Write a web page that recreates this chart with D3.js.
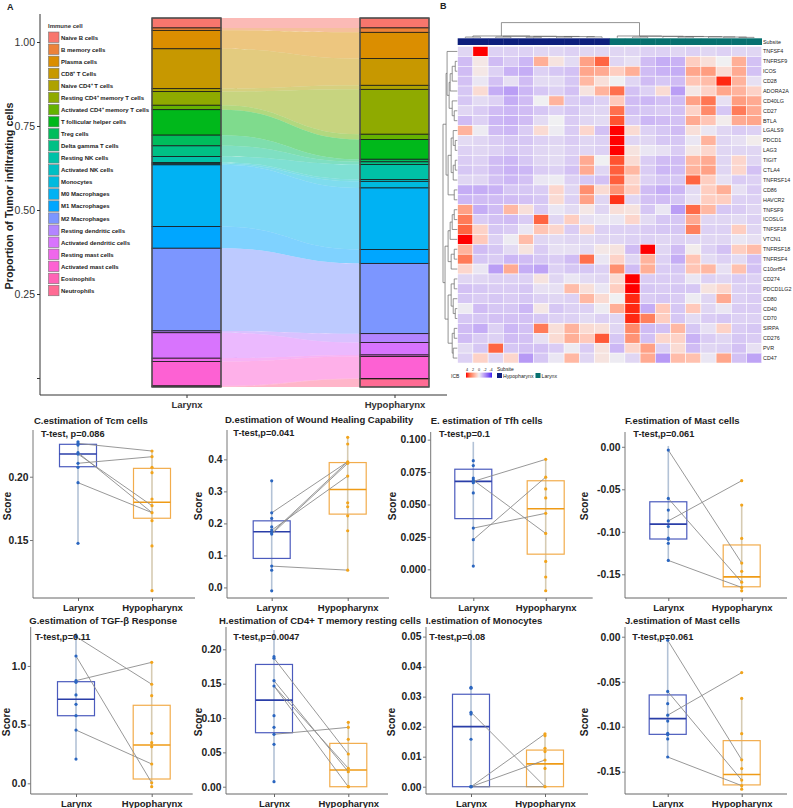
<!DOCTYPE html>
<html><head><meta charset="utf-8">
<script src="https://cdn.jsdelivr.net/npm/d3@7/dist/d3.min.js"></script>
<style>
html,body{margin:0;padding:0;background:#fff;}
svg{display:block;}
</style></head>
<body><svg id="chart" width="793" height="808"></svg>
<script>
// ================= DATA =================
const immuneCells = ["Naive B cells","B memory cells","Plasma cells","CD8⁺ T Cells","Naive CD4⁺ T cells","Resting CD4⁺ memory T cells","Activated CD4⁺ memory T cells","T follicular helper cells","Treg cells","Delta gamma T cells","Resting NK cells","Activated NK cells","Monocytes","M0 Macrophages","M1 Macrophages","M2 Macrophages","Resting dendritic cells","Activated dendritic cells","Resting mast cells","Activated mast cells","Eosinophils","Neutrophils"];
const subsites = ["Larynx","Hypopharynx"];
const larynxProp = [0.027,0.0065,0.050,0.108,0.008,0.037,0.012,0.069,0.029,0.029,0.016,0.0035,0.003,0.167,0.059,0.224,0.005,0.069,0.009,0.066,0.0015,0.0015];
const hypoProp   = [0.027,0.012,0.071,0.073,0.011,0.122,0.014,0.054,0.007,0.007,0.041,0.005,0.018,0.167,0.038,0.191,0.024,0.034,0.004,0.060,0.001,0.022];
const propTicks = [0,0.25,0.5,0.75,1];

const genes = ["TNFSF4","TNFRSF9","ICOS","CD28","ADORA2A","CD40LG","CD27","BTLA","LGALS9","PDCD1","LAG3","TIGIT","CTLA4","TNFRSF14","CD86","HAVCR2","TNFSF9","ICOSLG","TNFSF18","VTCN1","TNFRSF18","TNFRSF4","C10orf54","CD274","PDCD1LG2","CD80","CD40","CD70","SIRPA","CD276","PVR","CD47"];
const sampleSubsite = ["Hypopharynx","Hypopharynx","Hypopharynx","Hypopharynx","Hypopharynx","Hypopharynx","Hypopharynx","Hypopharynx","Hypopharynx","Hypopharynx","Larynx","Larynx","Larynx","Larynx","Larynx","Larynx","Larynx","Larynx","Larynx","Larynx"];
const icbTicks = [4,2,0,-2,-4];
const heatValues = [
[-0.5,4,-0.6,-0.6,-0.6,-0.5,-0.5,-0.6,-0.5,-0.5,-0.5,-0.5,-0.6,-0.6,-0.5,-0.6,-0.5,-0.6,-0.5,-0.5],
[-1,0.2,-1,-0.7,-1.1,1.5,0.3,-0.4,1.8,3,-0.5,-0.3,-1,-1.3,-1.2,0.8,0.4,0,1.5,-0.9],
[-1,0.2,-0.6,-1.2,-1.3,-0.6,-0.8,-0.9,1.7,1.6,0.8,1.5,-1,-1.2,-1.3,1.7,1.9,0.5,1.6,-0.9],
[-0.9,-0.2,-0.9,-0.3,-1,-0.4,-0.4,-0.8,1.3,0.4,0,-0.5,-1,-0.8,-1,1,1.2,3.8,1.4,-0.3],
[-0.8,0.5,-1.3,-1.6,-1.1,-0.8,-0.6,-0.9,0.3,1.4,2.8,-0.9,-0.6,0.5,-1.6,0.2,0.7,1.7,1.4,0.7],
[-0.8,-0.4,-0.6,-1.3,-1,0,1.4,-0.7,-0.8,-0.6,0.9,-1,-1.1,-0.9,-1,1.8,2.7,-0.3,1.9,1.6],
[-0.5,-0.7,-1,-1.1,-1,-0.8,-0.6,-0.8,-0.5,-0.5,2.8,-0.9,-0.8,-0.7,-0.9,0.7,2.3,-0.8,2.6,1.6],
[-1,-0.6,-1.1,-1.2,-1,-0.4,0,-0.7,-0.5,-0.4,3.3,-0.7,-1.1,-1,-0.9,1.6,1,0.1,1.6,1.7],
[1.4,-0.1,-1,-1.1,-0.7,0.5,-0.1,-0.7,0.6,-0.9,4,0.5,-0.6,-0.8,-1,0.4,-0.2,-0.5,-0.7,-0.6],
[-0.4,-0.5,-0.7,-0.8,-0.8,-0.6,-0.5,-0.7,-0.5,-0.6,4,-0.5,-0.5,-0.8,-0.8,-0.2,1.4,-0.5,-0.3,0.1],
[-0.6,-0.5,-0.6,-0.8,-0.7,-0.5,-0.4,-0.6,-0.5,-0.6,4,0.3,-0.2,-0.3,-0.7,0.2,0.6,-0.5,-0.5,-0.5],
[-0.7,-0.6,-1,-1.1,-0.8,-0.5,-0.4,-0.7,1.6,0,3.3,0.5,-0.7,-1,-1,1.3,1.6,-0.5,0.6,-0.5],
[-0.8,-0.7,-1,-1.2,-1.1,-0.7,-0.6,-0.9,1.6,-0.5,3.1,1.3,-0.7,-1.1,-1,1.4,1.8,-0.5,0.6,-0.9],
[-0.5,-0.5,-0.9,-1.1,-0.9,-0.2,-0.1,-0.6,-0.8,-0.9,3.1,0.6,-0.6,-0.8,-0.8,3,0.8,-0.3,-0.7,-0.6],
[-1.3,-1.3,-1.2,-0.8,-0.8,-0.7,0.6,-0.5,2.2,0.5,2.1,0.8,-1,-1.3,-1.1,-0.4,0.8,1.5,-0.3,-0.7],
[-1.1,-1,-1,-1,-0.9,-0.8,0.5,-0.6,1.8,-0.5,3.7,-0.5,-0.9,-1,-0.8,-0.3,0.8,0.8,-0.6,-0.6],
[1.8,-1.3,-1,1.3,0.4,-0.7,-0.2,-0.4,0.2,-0.5,0.4,0.3,-0.8,-0.2,-1.6,2.9,1.3,-0.8,-0.7,-0.5],
[2.6,-0.7,-0.9,-1,-0.7,3,-0.5,0.8,-0.3,-0.2,-0.2,0.6,-0.4,-0.8,-0.8,1.6,-0.5,-0.5,-0.4,-0.6],
[3,0.7,-0.8,-0.7,-0.2,1,0.6,-0.7,0.6,-0.6,-0.6,-0.6,-0.7,-0.8,-0.8,2.5,-0.6,-0.6,0.8,-0.5],
[4,0.9,-0.6,-0.1,1.2,-0.5,-0.4,-0.5,-0.4,-0.5,-0.5,-0.6,-0.6,-0.5,-0.6,-0.5,-0.5,-0.5,-0.2,-0.3],
[1.4,-1,-0.8,-0.4,0.3,-0.7,-0.3,-0.3,-0.4,0.2,0.3,-1,4,-0.5,-1,0.1,-0.6,-0.9,0.8,1.2],
[2.6,-0.8,-0.7,-1.1,-1,-0.8,-0.7,-1,2.8,-0.2,0.7,-0.5,1.4,-0.6,-1.3,1,-0.4,-0.6,-0.4,-0.9],
[0.6,-0.2,-1.6,1.6,-1.3,-1.5,-0.6,-0.8,-0.8,-0.6,2.2,-1,1.5,-0.7,-0.8,1,1.3,-0.3,1.1,-0.9],
[-0.5,-0.5,-0.6,-0.6,-0.6,0.3,-0.5,-0.2,-0.4,-0.5,0.5,4,-0.7,-0.7,-0.7,-0.2,-0.6,-0.5,-0.7,-0.6],
[-0.9,-0.8,-0.7,-0.7,-0.8,-0.3,-0.3,1.2,0.4,-0.2,0.8,4,-0.8,-0.7,-0.8,-0.8,0.3,0.6,-0.6,-0.7],
[-0.8,-0.7,-0.8,-0.7,-0.8,-0.6,-0.5,-0.6,1.3,0.5,0,3.8,-0.7,-0.8,-0.7,-0.1,-0.5,1.6,-0.6,-0.7],
[-0.1,-1,-0.8,-0.8,-1.1,0.2,-0.8,-0.6,-0.6,-0.1,1.5,3.8,-1.3,0.9,-0.8,0.9,-0.5,-0.2,-0.7,-0.7],
[-0.8,-0.8,-0.9,-0.9,-0.9,-0.8,-0.6,-0.6,-0.4,-0.6,-0.5,3.8,2.5,0.8,-0.8,-0.4,-0.7,-0.8,-0.6,-0.6],
[-1,-1.3,-0.6,-1.1,-0.9,2.6,0.4,1.4,0.5,0.4,-0.5,2.3,-1,-0.9,1.3,-0.8,-0.3,0.7,-0.7,-0.8],
[-1,-0.7,-0.6,-1,-0.9,-0.3,0.5,1.5,0.9,3.2,-0.8,2.1,-0.9,0.6,0.7,-1.2,-0.7,-0.5,-0.8,-0.7],
[-0.4,-0.8,3,-0.8,-0.9,-0.9,-0.7,-0.1,-0.7,0.3,-1.1,0.6,1.8,-0.6,0.5,-1,-0.5,-0.6,-0.9,-0.3],
[-0.6,0.7,-0.5,0.6,-1.7,-0.8,-0.2,1.3,-0.5,0.3,-0.1,-0.5,1.6,-1.7,1.2,1.1,-0.2,1.7,-0.9,-1.5]
];

// dendrogram merge heights (nested)
const N = (h, ...c) => ({h, c});
const rowTree = N(14,
  N(11,
    N(10, "TNFSF4", N(8, N(7, N(5, N(2,"TNFRSF9","ICOS"),"CD28"),"ADORA2A"), N(5,"CD40LG",N(3,"CD27","BTLA")))),
    N(9, N(6, N(4,"LGALS9",N(2,"PDCD1","LAG3")), N(4,N(2,"TIGIT","CTLA4"),"TNFRSF14")), N(3,"CD86","HAVCR2"))),
  N(12,
    N(9, N(7, N(5, N(3,"TNFSF9","ICOSLG"),"TNFSF18"),"VTCN1"), N(6, N(3,"TNFRSF18","TNFRSF4"),"C10orf54")),
    N(9, N(6, N(3,"CD274","PDCD1LG2"), N(4,"CD80",N(2,"CD40","CD70"))), N(5, N(3,"SIRPA","CD276"), N(4,"PVR","CD47")))));
const colTree = N(10,
  N(1.2, N(0.5,0,1), N(1.0, N(0.5,2,3), N(0.9, N(0.4,4,5), N(0.8, N(0.5,6,7), N(0.6,8,9))))),
  N(1.2, 10, N(1.0, N(0.5,11,12), N(0.9, 13, N(0.8, N(0.5,14,15), N(0.6,16, N(0.5,17, N(0.3,18,19))))))));

// Box panels data
const tcmLarynx = [0.2276,0.2263,0.225,0.219,0.2179,0.2106,0.2074,0.1953,0.1474];
const tcmHypo   = [0.2203,0.2158,0.2074,0.2032,0.1824,0.1771,0.1716,0.1653,0.1453,0.110];
const tcmBoxL = [0.1474,0.2079,0.2179,0.2256,0.2276];
const tcmBoxH = [0.110,0.1672,0.1798,0.2066,0.2203];
const tcmPairs = [[0.2263,0.2203],[0.2106,0.2158],[0.2179,0.1771],[0.219,0.1716],[0.1953,0.1716]];
const tcmTicks = [0.15,0.20];

const woundLarynx = [0.333,0.233,0.2156,0.189,0.179,0.1706,0.1666,0.0666,0.054,-0.0106];
const woundHypo   = [0.4687,0.448,0.3926,0.3875,0.3478,0.2644,0.252,0.2238,0.177,0.054];
const woundBoxL = [-0.0106,0.0906,0.174,0.208,0.333];
const woundBoxH = [0.054,0.229,0.306,0.39,0.4687];
const woundPairs = [[0.233,0.3926],[0.1706,0.3926],[0.1666,0.3875],[0.179,0.3478],[0.0666,0.054]];
const woundTicks = [0,0.1,0.2,0.3,0.4];

const tfhLarynx = [0.0838,0.080,0.0704,0.0688,0.0678,0.0668,0.0589,0.0318,0.0229,0.0025];
const tfhHypo   = [0.0848,0.0711,0.062,0.0551,0.0432,0.0277,0.0061,-0.0059,-0.0165];
const tfhBoxL = [0.0025,0.0391,0.0678,0.0772,0.0983];
const tfhBoxH = [-0.0165,0.0117,0.0467,0.0683,0.0848];
const tfhPairs = [[0.0678,0.0848],[0.0688,0.0277],[0.0318,0.0432],[0.0229,0.0711]];
const tfhTicks = [0,0.025,0.05,0.075,0.1];

const mastLarynx = [-0.0039,-0.0608,-0.0744,-0.0872,-0.0938,-0.1074,-0.1089,-0.1136,-0.1337];
const mastHypo   = [-0.0399,-0.0686,-0.1078,-0.1368,-0.1465,-0.1593,-0.1655,-0.1694];
const mastBoxL = [-0.1337,-0.1085,-0.091,-0.0647,0.001];
const mastBoxH = [-0.1694,-0.1647,-0.1531,-0.1155,-0.0686];
const mastPairs = [[-0.0039,-0.1368],[-0.0872,-0.0399],[-0.0608,-0.1593],[-0.1337,-0.1655]];
const mastTicks = [0,-0.05,-0.1,-0.15];

const tgfLarynx = [1.25,1.085,0.875,0.861,0.753,0.673,0.576,0.454,0.207];
const tgfHypo   = [1.031,0.844,0.747,0.426,0.346,0.312,0.1645,0.005,-0.029];
const tgfBoxL = [0.207,0.576,0.716,0.866,1.28];
const tgfBoxH = [-0.029,0.0367,0.3265,0.665,1.031];
const tgfPairs = [[1.25,0.844],[0.875,1.031],[1.085,0.005],[0.454,0.1645]];
const tgfTicks = [0,0.5,1.0];

const cd4Larynx = [0.1893,0.187,0.1543,0.1466,0.1034,0.0864,0.0763,0.0617,0.0073];
const cd4Hypo   = [0.0937,0.0864,0.069,0.0476,0.0268,0.0218,0.0,0.0];
const cd4BoxL = [0.0073,0.0786,0.126,0.178,0.228];
const cd4BoxH = [0.0,0.0,0.0243,0.0631,0.0937];
const cd4Pairs = [[0.187,0.0476],[0.1543,0.0218],[0.1466,0.0268],[0.1466,0.0],[0.0763,0.0864]];
const cd4Ticks = [0,0.05,0.1,0.15,0.2];

const monoLarynx = [0.0331,0.0328,0.0248,0.0242,0.0158,0,0,0];
const monoHypo   = [0.0176,0.017,0.0128,0.0117,0.0089,0.0061,0];
const monoBoxL = [0,0,0.02,0.0308,0.0522];
const monoBoxH = [0,0,0.0076,0.0122,0.0176];
const monoPairs = [[0.0248,0],[0,0.0176],[0,0.0089],[0,0]];
const monoTicks = [0,0.01,0.02,0.03,0.04,0.05];

const panelTitles = ["C.estimation of Tcm cells","D.estimation of Wound Healing Capability","E. estimation of Tfh cells","F.estimation of Mast cells","G.estimation of TGF-β Response","H.estimation of CD4+ T memory resting cells","I.estimation of Monocytes","J.estimation of Mast cells"];
const pTexts = ["T-test, p=0.086","T-test,p=0.041","T-test,p=0.1","T-test,p=0.061","T-test,p=0.11","T-test,p=0.0047","T-test,p=0.08","T-test,p=0.061"];

// ================= HELPERS =================
const FONT = '"Liberation Sans", Arial, Helvetica, sans-serif';
function hclLuv(h, c, l) {
  const hr = h*Math.PI/180, U = c*Math.cos(hr), V = c*Math.sin(hr);
  const Y = l > 8 ? Math.pow((l+16)/116,3) : l/903.3;
  const Xn=0.95047, Yn=1, Zn=1.08883, den = Xn+15*Yn+3*Zn;
  const un = 4*Xn/den, vn = 9*Yn/den;
  const u = U/(13*l)+un, v = V/(13*l)+vn;
  const X = 9*Y*u/(4*v), Z = Y*(12-3*u-20*v)/(4*v);
  const r = 3.2404542*X-1.5371385*Y-0.4985314*Z;
  const g = -0.9692660*X+1.8760108*Y+0.0415560*Z;
  const b = 0.0556434*X-0.2040259*Y+1.0572252*Z;
  const gm = x => { x=Math.max(0,Math.min(1,x)); return x<=0.0031308?12.92*x:1.055*Math.pow(x,1/2.4)-0.055; };
  return d3.rgb(gm(r)*255, gm(g)*255, gm(b)*255).formatHex();
}
const fmtMinus = f => d => d3.format(f)(d).replace("−","-");

const svg = d3.select("#chart").attr("font-family", FONT);

// ================= PANEL A =================
const cellColor = d3.scaleOrdinal().domain(immuneCells).range(immuneCells.map((d,i)=>hclLuv(15+i*360/22,100,65)));
const xA = d3.scalePoint().domain(subsites).range([186.5, 394.5]);
const yAxisA = d3.scaleLinear().domain([0,1]).range([378,42]);
const yStack = d3.scaleLinear().domain([0,1]).range([387,18]);
const barW = 69;
function stackOf(vals){ const s=d3.sum(vals); let acc=0; return vals.map(v=>{const t=1-acc/s; acc+=v; return {top:t, bot:1-acc/s};}); }
const stacks = {Larynx: stackOf(larynxProp), Hypopharynx: stackOf(hypoProp)};
const gA = svg.append("g");
const fx1 = xA("Larynx")+barW/2, fx2 = xA("Hypopharynx")-barW/2, fxm = (fx1+fx2)/2;
immuneCells.forEach((c,i)=>{
  const a = stacks.Larynx[i], b = stacks.Hypopharynx[i];
  const p = d3.path();
  p.moveTo(fx1, yStack(a.top));
  p.bezierCurveTo(fxm, yStack(a.top), fxm, yStack(b.top), fx2, yStack(b.top));
  p.lineTo(fx2, yStack(b.bot));
  p.bezierCurveTo(fxm, yStack(b.bot), fxm, yStack(a.bot), fx1, yStack(a.bot));
  p.closePath();
  gA.append("path").attr("d", p.toString()).attr("fill", cellColor(c)).attr("fill-opacity", 0.5);
});
subsites.forEach(g=>{
  const st = stacks[g];
  immuneCells.forEach((c,i)=>{
    gA.append("rect").attr("x", xA(g)-barW/2).attr("width", barW)
      .attr("y", yStack(st[i].top)).attr("height", Math.max(0.01, yStack(st[i].bot)-yStack(st[i].top)))
      .attr("fill", cellColor(c)).attr("stroke", "#1a1a1a").attr("stroke-width", 0.8);
  });
  gA.append("rect").attr("x", xA(g)-barW/2).attr("width", barW).attr("y", yStack(1)).attr("height", yStack(0)-yStack(1))
    .attr("fill","none").attr("stroke","#555").attr("stroke-width",1.3);
});
gA.append("line").attr("x1",40).attr("x2",40).attr("y1",14).attr("y2",395).attr("stroke","#333").attr("stroke-width",1);
gA.append("line").attr("x1",40).attr("x2",447).attr("y1",395).attr("y2",395).attr("stroke","#333").attr("stroke-width",1);
const axA = gA.append("g").attr("transform","translate(40,0)")
  .call(d3.axisLeft(yAxisA).tickValues(propTicks).tickSize(3).tickPadding(2).tickFormat(d=>d===0?"":d3.format(".2f")(d)));
axA.select(".domain").remove();
axA.attr("font-family", FONT).attr("font-size", 10.5);
axA.selectAll("text").attr("fill","#333");
axA.selectAll("line").attr("stroke","#333");
const axAx = gA.append("g").attr("transform","translate(0,395)").call(d3.axisBottom(xA).tickSize(3).tickPadding(3));
axAx.select(".domain").remove();
axAx.attr("font-family", FONT).attr("font-size", 9.5).attr("font-weight","bold");
axAx.selectAll("text").attr("fill","#333");
axAx.selectAll("line").attr("stroke","#333");
gA.append("text").attr("transform","translate(13,196) rotate(-90)").attr("text-anchor","middle")
  .attr("font-size",10.8).attr("font-weight","bold").attr("fill","#222").text("Proportion of Tumor infiltrating cells");
// legend
gA.append("text").attr("x",48).attr("y",28).attr("font-size",6).attr("font-weight","bold").attr("fill","#333").text("Immune cell");
immuneCells.forEach((c,i)=>{
  const y = 32 + i*12.06;
  gA.append("rect").attr("x",48.5).attr("y",y).attr("width",10.5).attr("height",10.5).attr("fill",cellColor(c)).attr("stroke","#777").attr("stroke-width",0.6);
  gA.append("text").attr("x",61).attr("y",y+7.6).attr("font-size",6).attr("font-weight","bold").attr("fill","#222").text(c);
});
svg.append("text").attr("x",7).attr("y",10).attr("font-size",9).attr("font-weight","bold").attr("fill","#222").text("A");

// ================= PANEL B =================
const gB = svg.append("g");
svg.append("text").attr("x",440).attr("y",9).attr("font-size",9).attr("font-weight","bold").attr("fill","#222").text("B");
const xH = d3.scaleBand().domain(d3.range(20)).range([457.7, 761.7]);
const yH = d3.scaleBand().domain(genes).range([46.5, 363]);
const heatColor = d3.scaleLinear().domain([-4,0,4]).range(["#3f22f2","#f0f0f2","#ff0000"]).interpolate(d3.interpolateLab).clamp(true);
const subColor = d3.scaleOrdinal().domain(["Hypopharynx","Larynx"]).range(["#0d1f7c","#07706f"]);
sampleSubsite.forEach((s,j)=>{
  gB.append("rect").attr("x", xH(j)).attr("y", 38.3).attr("width", xH.bandwidth()+0.3).attr("height", 6.7).attr("fill", subColor(s));
});
gB.append("text").attr("x",763).attr("y",43.5).attr("font-size",5.4).attr("fill","#222").text("Subsite");
genes.forEach((gname,i)=>{
  heatValues[i].forEach((v,j)=>{
    gB.append("rect").attr("x", xH(j)).attr("y", yH(gname)).attr("width", xH.bandwidth()).attr("height", yH.bandwidth())
      .attr("fill", heatColor(v)).attr("stroke","#ffffff").attr("stroke-width",0.5);
  });
  gB.append("text").attr("x",763).attr("y", yH(gname)+yH.bandwidth()/2+1.9).attr("font-size",5.4).attr("fill","#222").text(gname);
});
// dendrograms
function drawTree(node, leafPos, hPos, orient, g) {
  if (typeof node !== "object") return {pos: leafPos(node), h: 0};
  const kids = node.c.map(k => drawTree(k, leafPos, hPos, orient, g));
  const pos = d3.mean(kids, k => k.pos);
  const hp = hPos(node.h);
  const line = (a,b,c,d) => g.append("line").attr("x1",a).attr("y1",b).attr("x2",c).attr("y2",d).attr("stroke","#666").attr("stroke-width",0.7);
  const p0 = d3.min(kids, k=>k.pos), p1 = d3.max(kids, k=>k.pos);
  if (orient === "row") {
    line(hp, p0, hp, p1);
    kids.forEach(k => line(hp, k.pos, hPos(k.h), k.pos));
  } else {
    line(p0, hp, p1, hp);
    kids.forEach(k => line(k.pos, hp, k.pos, hPos(k.h)));
  }
  return {pos, h: node.h};
}
const rowH = d3.scaleLinear().domain([0,14]).range([457.3, 443]);
drawTree(rowTree, gname => yH(gname)+yH.bandwidth()/2, rowH, "row", gB);
const colH = d3.scaleLinear().domain([0,10]).range([37.8, 22.6]);
drawTree(colTree, j => xH(j)+xH.bandwidth()/2, colH, "col", gB);
// legend
const defs = svg.append("defs");
const grad = defs.append("linearGradient").attr("id","icbGrad").attr("x1","0%").attr("x2","100%");
d3.range(0,1.0001,0.125).forEach(t => grad.append("stop").attr("offset", (t*100)+"%").attr("stop-color", heatColor(4 - 8*t)));
const icbX = d3.scaleLinear().domain([4,-4]).range([467, 491]);
gB.append("text").attr("x",451).attr("y",377.5).attr("font-size",5).attr("fill","#222").text("ICB");
gB.append("rect").attr("x",icbX(4)-1).attr("y",372.6).attr("width",icbX(-4)-icbX(4)+2).attr("height",5).attr("fill","url(#icbGrad)");
icbTicks.forEach(t => gB.append("text").attr("x",icbX(t)).attr("y",371).attr("text-anchor","middle").attr("font-size",3.8).attr("fill","#222").text(t));
gB.append("text").attr("x",497).attr("y",371).attr("font-size",5).attr("fill","#222").text("Subsite");
gB.append("rect").attr("x",497).attr("y",373).attr("width",5).attr("height",5).attr("fill",subColor("Hypopharynx"));
gB.append("text").attr("x",503).attr("y",377.7).attr("font-size",5.2).attr("fill","#222").text("Hypopharynx");
gB.append("rect").attr("x",535.5).attr("y",373).attr("width",5).attr("height",5).attr("fill",subColor("Larynx"));
gB.append("text").attr("x",541.5).attr("y",377.7).attr("font-size",5.2).attr("fill","#222").text("Larynx");

// ================= BOX PANELS =================
const boxPanels = [
 {L:tcmLarynx,H:tcmHypo,bL:tcmBoxL,bH:tcmBoxH,pairs:tcmPairs,ticks:tcmTicks,fmt:".2f",dom:[0.1042,0.2369],left:33,top:430,bottom:598,cx:[78,152],tx:34,ty:423.5,px:41,py:436.5,sx:10.5,sy:506},
 {L:woundLarynx,H:woundHypo,bL:woundBoxL,bH:woundBoxH,pairs:woundPairs,ticks:woundTicks,fmt:".1f",dom:[-0.033,0.4917],left:227,top:430,bottom:598,cx:[271.7,347.7],tx:225,ty:422.5,px:233.3,py:436,sx:201.5,sy:506},
 {L:tfhLarynx,H:tfhHypo,bL:tfhBoxL,bH:tfhBoxH,pairs:tfhPairs,ticks:tfhTicks,fmt:".3f",dom:[-0.0221,0.1059],left:430.7,top:432,bottom:598,cx:[473.3,545.7],tx:430.7,ty:423.5,px:439,py:436.5,sx:395.5,sy:506},
 {L:mastLarynx,H:mastHypo,bL:mastBoxL,bH:mastBoxH,pairs:mastPairs,ticks:mastTicks,fmt:".2f",dom:[-0.1779,0.0174],left:625,top:432,bottom:598,cx:[668.3,741.7],tx:625,ty:423.5,px:633.3,py:436.5,sx:588,sy:506},
 {L:tgfLarynx,H:tgfHypo,bL:tgfBoxL,bH:tgfBoxH,pairs:tgfPairs,ticks:tgfTicks,fmt:".1f",dom:[-0.091,1.332],left:30.7,top:627,bottom:794,cx:[76,151.7],tx:29.3,ty:624,px:35,py:639.5,sx:10,sy:722},
 {L:cd4Larynx,H:cd4Hypo,bL:cd4BoxL,bH:cd4BoxH,pairs:cd4Pairs,ticks:cd4Ticks,fmt:".2f",dom:[-0.0106,0.2325],left:226,top:627,bottom:794,cx:[274,348.3],tx:219,ty:624,px:233.3,py:640,sx:201.5,sy:722},
 {L:monoLarynx,H:monoHypo,bL:monoBoxL,bH:monoBoxH,pairs:monoPairs,ticks:monoTicks,fmt:".2f",dom:[-0.00243,0.0532],left:426,top:627,bottom:794,cx:[471,545],tx:425.7,ty:624,px:429.3,py:640,sx:395,sy:722},
 {L:mastLarynx,H:mastHypo,bL:mastBoxL,bH:mastBoxH,pairs:mastPairs,ticks:mastTicks,fmt:".2f",dom:[-0.1748,0.0108],left:625,top:627,bottom:794,cx:[667.7,741.7],tx:625,ty:624,px:632.3,py:640,sx:588,sy:722}
];
const grpStyle = {
  Larynx: {box:"#4b5bbd", med:"#2a3ea8", whisk:"#b3c2d6", pt:"#2b66c0"},
  Hypopharynx: {box:"#f2ac4c", med:"#ef9b16", whisk:"#d6cbb2", pt:"#f2a41c"}
};
boxPanels.forEach((P, k) => {
  const g = svg.append("g");
  const x = d3.scalePoint().domain(subsites).range(P.cx);
  const y = d3.scaleLinear().domain(P.dom).range([P.bottom, P.top]);
  const boxW = 37;
  // axes lines
  g.append("line").attr("x1",P.left).attr("x2",P.left).attr("y1",P.top).attr("y2",P.bottom).attr("stroke","#777").attr("stroke-width",1);
  g.append("line").attr("x1",P.left).attr("x2",P.left+162).attr("y1",P.bottom).attr("y2",P.bottom).attr("stroke","#666").attr("stroke-width",1);
  const ay = g.append("g").attr("transform",`translate(${P.left},0)`)
    .call(d3.axisLeft(y).tickValues(P.ticks).tickSize(3).tickPadding(1.5).tickFormat(fmtMinus(P.fmt)));
  ay.select(".domain").remove();
  ay.attr("font-family",FONT).attr("font-size",10.3).attr("font-weight","bold");
  ay.selectAll("text").attr("fill","#222");
  ay.selectAll("line").attr("stroke","#777");
  const ax = g.append("g").attr("transform",`translate(0,${P.bottom})`).call(d3.axisBottom(x).tickSize(3).tickPadding(3));
  ax.select(".domain").remove();
  ax.attr("font-family",FONT).attr("font-size",9.5).attr("font-weight","bold");
  ax.selectAll("text").attr("fill","#222");
  ax.selectAll("line").attr("stroke","#666");
  // boxes
  [["Larynx",P.bL],["Hypopharynx",P.bH]].forEach(([grp, b]) => {
    const s = grpStyle[grp], cx = x(grp);
    g.append("line").attr("x1",cx).attr("x2",cx).attr("y1",y(b[0])).attr("y2",y(b[4])).attr("stroke",s.whisk).attr("stroke-width",1.6);
    g.append("rect").attr("x",cx-boxW/2).attr("width",boxW).attr("y",y(b[3])).attr("height",Math.max(0.5,y(b[1])-y(b[3])))
      .attr("fill","none").attr("stroke",s.box).attr("stroke-width",1.2);
    g.append("line").attr("x1",cx-boxW/2).attr("x2",cx+boxW/2).attr("y1",y(b[2])).attr("y2",y(b[2])).attr("stroke",s.med).attr("stroke-width",1.6);
  });
  // paired lines
  P.pairs.forEach(([a,b]) => {
    g.append("line").attr("x1",x("Larynx")).attr("y1",y(a)).attr("x2",x("Hypopharynx")).attr("y2",y(b)).attr("stroke","#8c8c8c").attr("stroke-width",0.9);
  });
  // points
  [["Larynx",P.L],["Hypopharynx",P.H]].forEach(([grp, vals]) => {
    vals.forEach(v => g.append("circle").attr("cx",x(grp)).attr("cy",y(v)).attr("r",1.6).attr("fill",grpStyle[grp].pt));
  });
  // texts
  g.append("text").attr("x",P.tx).attr("y",P.ty).attr("font-size",9.5).attr("font-weight","bold").attr("fill","#222").text(panelTitles[k]);
  g.append("text").attr("x",P.px).attr("y",P.py).attr("font-size",9.2).attr("font-weight","bold").attr("fill","#222").text(pTexts[k]);
  g.append("text").attr("transform",`translate(${P.sx},${P.sy}) rotate(-90)`).attr("text-anchor","middle")
    .attr("font-size",10.2).attr("font-weight","bold").attr("fill","#222").text("Score");
});
</script>
</body></html>
